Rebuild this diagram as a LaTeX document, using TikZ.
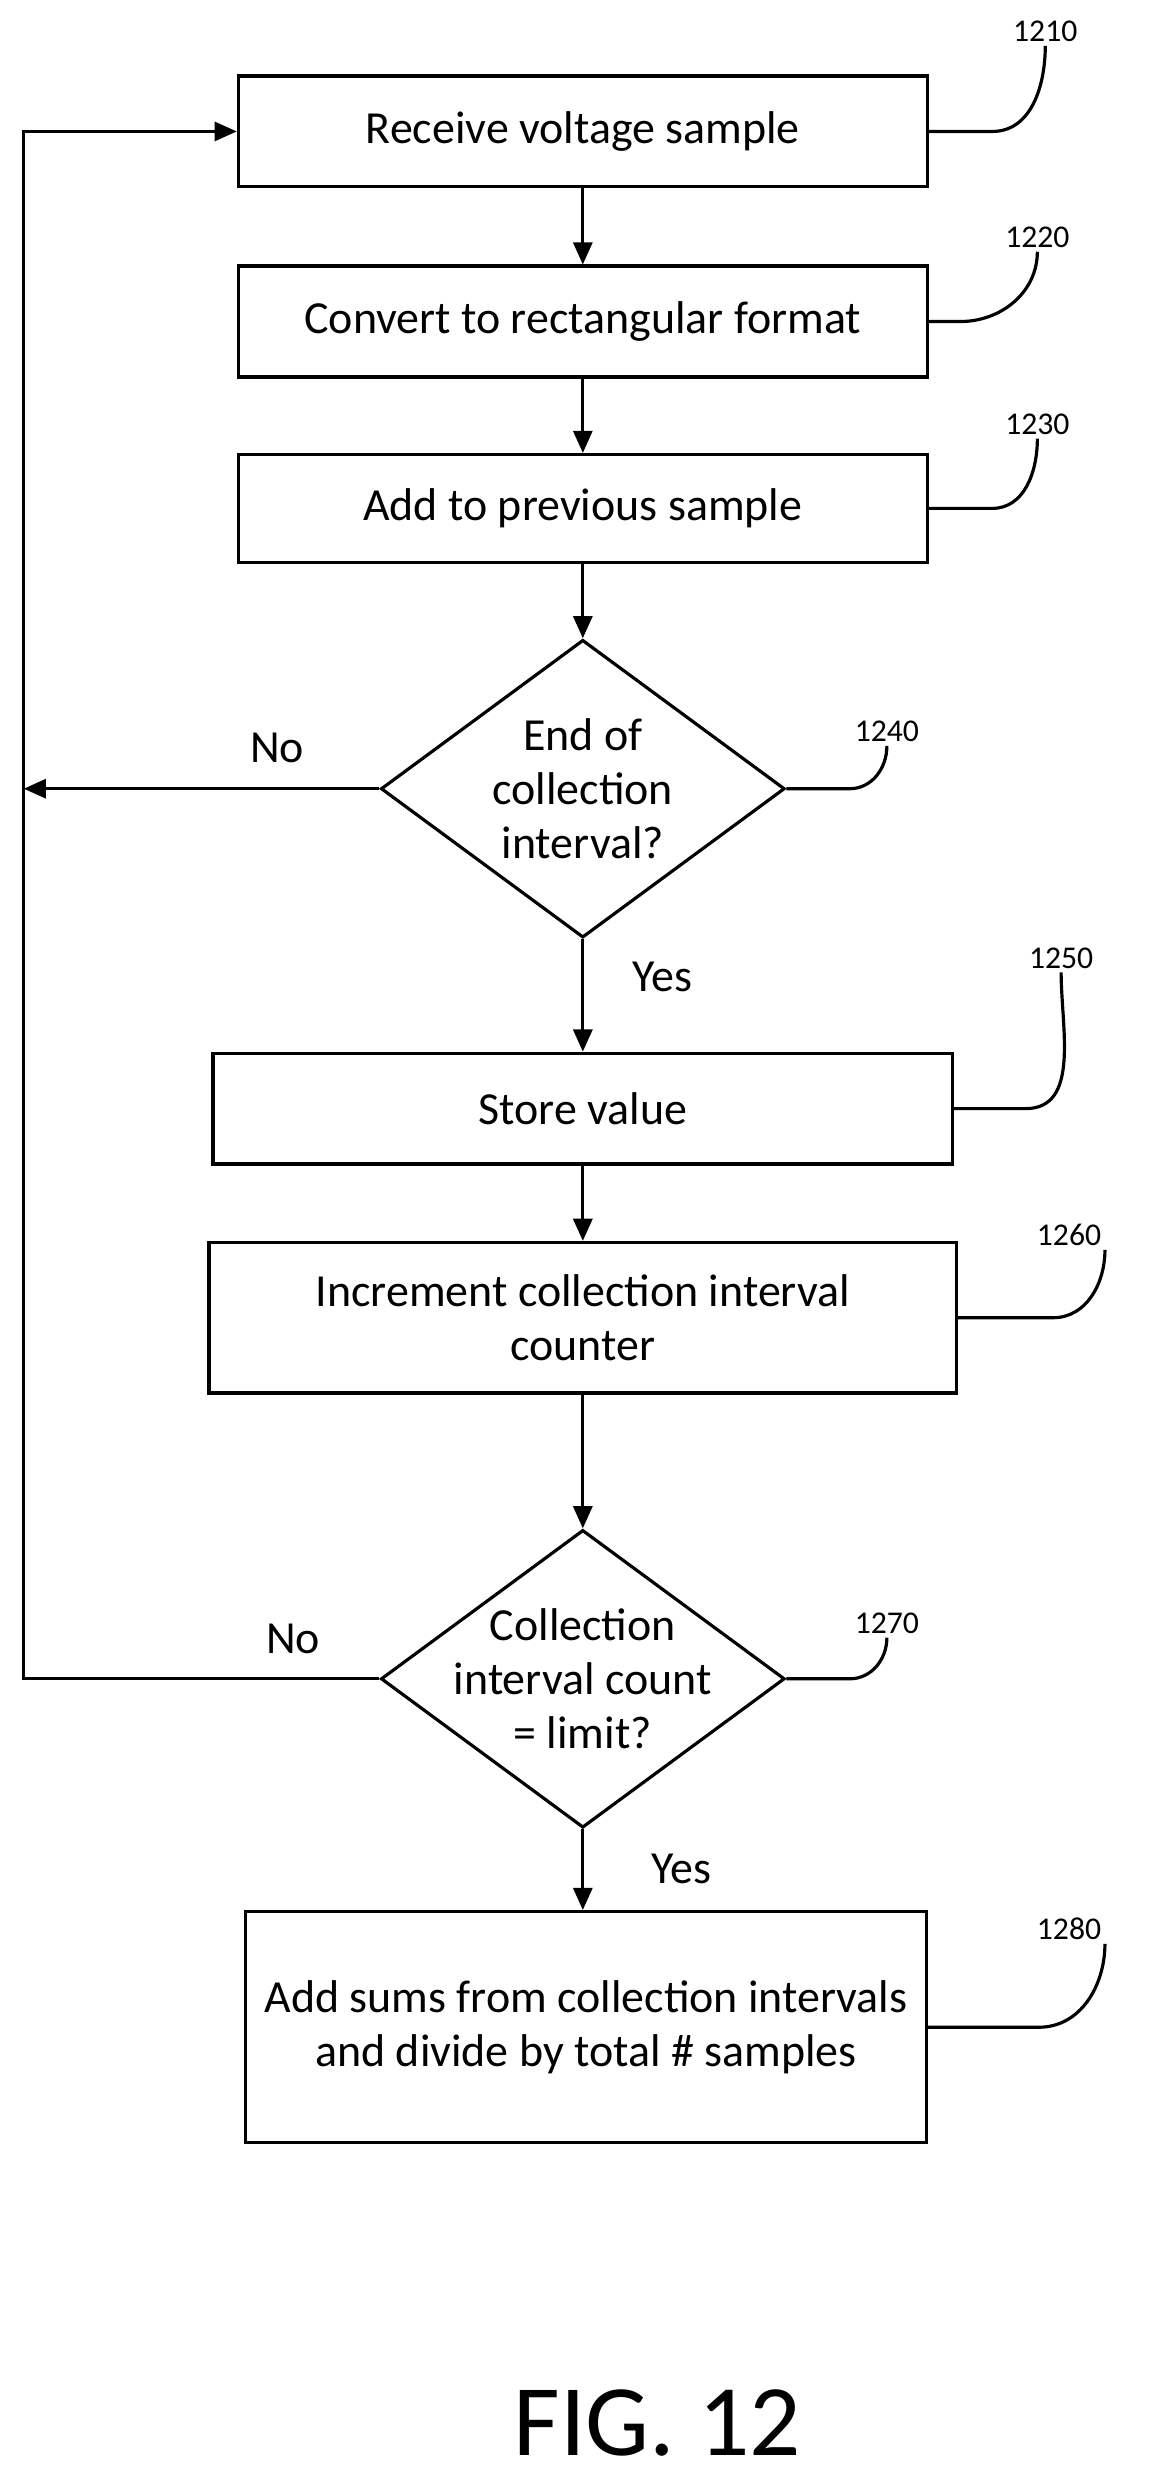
\documentclass[tikz,border=0pt]{standalone}
\usepackage{fontspec}
\setmainfont{Carlito}
\usetikzlibrary{shapes.geometric,arrows.meta}
\begin{document}
\begin{tikzpicture}[x=0.5pt,y=-0.5pt,
  box/.style={draw,line width=1pt,rectangle,inner sep=0pt,font=\fontsize{14.5}{17}\selectfont,align=center},
  dec/.style={draw,line width=1pt,diamond,aspect=1.36,minimum width=255*0.5pt,minimum height=188*0.5pt,inner sep=-10pt,font=\fontsize{14.5}{17}\selectfont,align=center},
  ref/.style={font=\fontsize{10}{11}\selectfont,inner sep=1pt},
  lbl/.style={font=\fontsize{14.5}{17}\selectfont},
  flow/.style={line width=1pt,-{Triangle[length=7pt,width=6pt]}},
  hook/.style={line width=1pt}]
\path[use as bounding box] (0,0) rectangle (740,1564);
% steps
\node[box,minimum width=217.5pt,minimum height=35pt] (b1210) at (368,83) {Receive voltage sample};
\node[box,minimum width=217.5pt,minimum height=35pt] (b1220) at (368,203) {Convert to rectangular format};
\node[box,minimum width=217.5pt,minimum height=34pt] (b1230) at (368,321) {Add to previous sample};
\node[dec] (d1240) at (368,498) {End of\\collection\\interval?};
\node[box,minimum width=233.5pt,minimum height=35pt] (b1250) at (368,700) {Store value};
\node[box,minimum width=236pt,minimum height=47.5pt] (b1260) at (368,832) {Increment collection interval\\counter};
\node[dec] (d1270) at (368,1060) {Collection\\interval count\\= limit?};
\node[box,minimum width=215pt,minimum height=73pt] (b1280) at (370,1280) {Add sums from collection intervals\\and divide by total \# samples};
% flow
\draw[flow] (b1210) -- (b1220);
\draw[flow] (b1220) -- (b1230);
\draw[flow] (b1230) -- (d1240);
\draw[flow] (d1240) -- (b1250);
\draw[flow] (b1250) -- (b1260);
\draw[flow] (b1260) -- (d1270);
\draw[flow] (d1270.south) -- (d1270.south |- b1280.north);
\coordinate (loopA) at (15,498);
\coordinate (loopB) at (15,1060);
\draw[flow] (d1240.west) -- (loopA);
\draw[flow] (d1270.west) -- (loopB) -- (loopB |- b1210.west) -- (b1210.west);
\node[lbl] (no1) at (175,472) {No};
\node[lbl] (no2) at (185,1035) {No};
\node[lbl] (yes1) at (418,617) {Yes};
\node[lbl] (yes2) at (430,1180) {Yes};
% reference numerals
\node[ref] (r1210) at (660,20) {1210};
\node[ref] (r1220) at (655,150) {1220};
\node[ref] (r1230) at (655,268) {1230};
\node[ref] (r1240) at (560,462) {1240};
\node[ref] (r1250) at (670,605) {1250};
\node[ref] (r1260) at (675,780) {1260};
\node[ref] (r1270) at (560,1025) {1270};
\node[ref] (r1280) at (675,1218) {1280};
\draw[hook] (b1210.east) -- ++(40,0) to[out=0,in=-90] (r1210.south);
\draw[hook] (b1220.east) -- ++(20,0) to[out=0,in=-90] (r1220.south);
\draw[hook] (b1230.east) -- ++(40,0) to[out=0,in=-90] (r1230.south);
\draw[hook] (d1240.east) -- ++(40,0) to[out=0,in=-90] (r1240.south);
\draw[hook] (b1250.east) -- ++(45,0) to[out=0,in=-90] (r1250.south);
\draw[hook] (b1260.east) -- ++(60,0) to[out=0,in=-90] (r1260.south east);
\draw[hook] (d1270.east) -- ++(40,0) to[out=0,in=-90] (r1270.south);
\draw[hook] (b1280.east) -- ++(70,0) to[out=0,in=-90] (r1280.south east);
\node[font=\fontsize{32}{36}\selectfont] (fig) at (415,1530) {FIG. 12};
\end{tikzpicture}
\end{document}
